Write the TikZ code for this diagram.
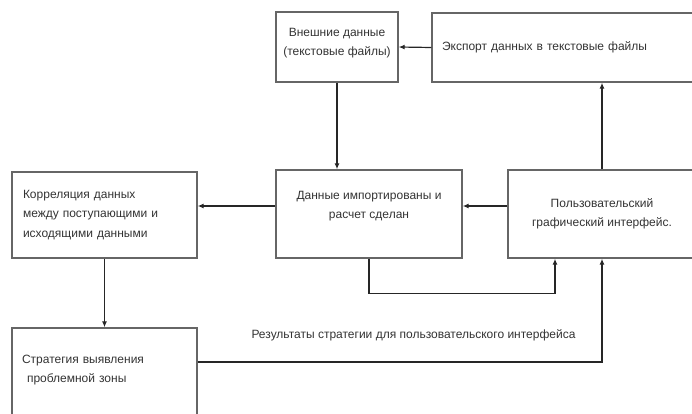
\documentclass[tikz,border=0pt]{standalone}
\usepackage{fontspec}
\setmainfont{Liberation Sans}
\usetikzlibrary{arrows.meta}
\begin{document}
\begin{tikzpicture}[
  x=1pt, y=-1pt,
  every node/.style={font=\fontsize{12}{19.5}\selectfont, text=black!80},
  box/.style={draw=black!60, line width=1.4pt, rectangle},
  lbl/.style={inner sep=0pt},
  arr/.style={draw=black!85, line width=1.2pt, -{Latex[length=6pt,width=5pt]}}
]
\clip (0,0) rectangle (692,414);
% blocks
\node[box, minimum width=122pt, minimum height=70pt, align=center, text depth=10pt, inner xsep=2pt] (ext) at (337,47) {Внешние данные\\(текстовые файлы)};
\node[box, minimum width=264pt, minimum height=69pt, text width=244pt, inner xsep=10pt, align=left] (exp) at (564,47.5) {Экспорт данных в текстовые файлы};
\node[box, minimum width=186pt, minimum height=88pt, align=center, text depth=18pt] (imp) at (369,214) {Данные импортированы и\\расчет сделан};
\node[box, minimum width=188pt, minimum height=88pt, align=center] (gui) at (602,214) {Пользовательский\\графический интерфейс.};
\node[box, minimum width=185pt, minimum height=86pt, text width=163pt, inner xsep=11pt, align=left] (corr) at (104.5,215) {Корреляция данных\\между поступающими и\\исходящими данными};
\node[box, minimum width=185pt, minimum height=92pt, text width=165pt, inner xsep=10pt, align=left, text depth=30pt] (strat) at (104.5,374) {Стратегия выявления\\\hspace*{5pt}проблемной зоны};
\node[lbl] (res) at (413.5,335) {Результаты стратегии для пользовательского интерфейса};
% links
\draw[arr] (exp.west) -- (ext.east);
\draw[arr] (ext.south) -- (ext.south |- imp.north);
\draw[arr] ([yshift=8pt]imp.west) -- ([yshift=8pt]imp.west -| corr.east);
\draw[arr] ([yshift=8pt]gui.west) -- ([yshift=8pt]gui.west -| imp.east);
\draw[arr] (gui.north) -- (gui.north |- exp.south);
\draw[arr] (imp.south) -- ++(0,35) -| ([xshift=-47pt]gui.south);
\draw[arr] (corr.south) -- (strat.north);
\draw[arr] ([yshift=12pt]strat.east) -| (gui.south);
\end{tikzpicture}
\end{document}
